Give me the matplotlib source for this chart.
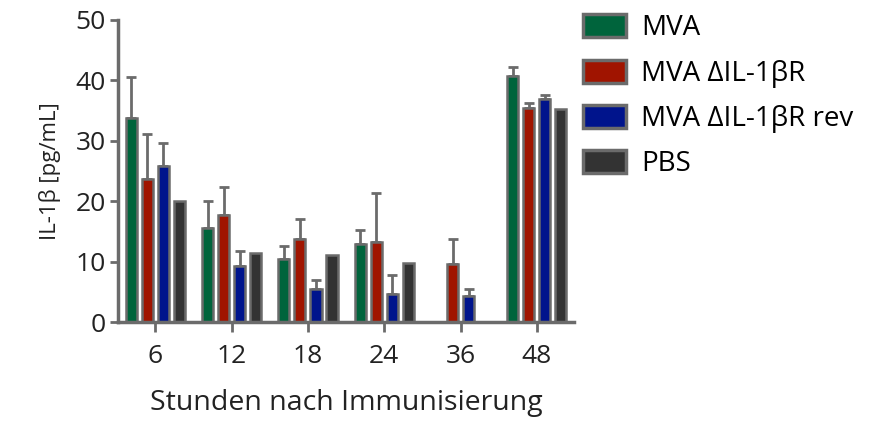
import matplotlib
matplotlib.use('Agg')
import matplotlib.pyplot as plt
import numpy as np

hours = ['6', '12', '18', '24', '36', '48']
groups = ['MVA', 'MVA ΔIL-1βR', 'MVA ΔIL-1βR rev', 'PBS']
colors = ['#00643c', '#a01400', '#00148c', '#333333']

# mean values per group (pg/mL)
mva = [33.8, 15.5, 10.4, 12.9, 0.0, 40.7]
mva_del = [23.6, 17.7, 13.7, 13.2, 9.6, 35.4]
mva_rev = [25.8, 9.3, 5.4, 4.7, 4.3, 36.9]
pbs = [20.0, 11.4, 11.1, 9.7, 0.0, 35.3]

# upper error (SD)
mva_err = [6.8, 4.5, 2.2, 2.3, 0.0, 1.6]
mva_del_err = [7.6, 4.6, 3.3, 8.2, 4.2, 0.9]
mva_rev_err = [3.9, 2.4, 1.5, 3.1, 1.2, 0.7]
pbs_err = [0, 0, 0, 0, 0, 0]

plt.rcParams['font.family'] = ['Open Sans', 'DejaVu Sans']
gray = '#6b6b6b'
txt = '#222222'

fig = plt.figure(figsize=(8.78, 4.21), dpi=100)
ax = fig.add_axes([0.1344, 0.235, 0.5196, 0.7175])

x = np.arange(len(hours))
pitch = 0.21
width = 0.145
series = [(mva, mva_err), (mva_del, mva_del_err), (mva_rev, mva_rev_err), (pbs, pbs_err)]
for i, ((vals, err), col, name) in enumerate(zip(series, colors, groups)):
    pos = x + (i - 1.5) * pitch
    ax.bar(pos, vals, width, color=col, edgecolor=gray, linewidth=1.8, label=name, zorder=2)
    e = np.array(err)
    mask = e > 0
    ax.errorbar(pos[mask], np.array(vals)[mask], yerr=[np.zeros(mask.sum()), e[mask]],
                fmt='none', ecolor=gray, elinewidth=2, capsize=3.5, capthick=2, zorder=1)

ax.set_xlim(-0.49, 5.49)
ax.set_ylim(0, 50)
ax.set_yticks([0, 10, 20, 30, 40, 50])
ax.set_xticks(x)
ax.set_xticklabels(hours)
for s in ['top', 'right']:
    ax.spines[s].set_visible(False)
for s in ['left', 'bottom']:
    ax.spines[s].set_color(gray)
    ax.spines[s].set_linewidth(2.5)
ax.tick_params(axis='both', colors=gray, width=2, length=6, labelsize=19, labelcolor=txt)
ax.tick_params(axis='x', length=7, pad=9)
ax.tick_params(axis='y', pad=3)
ax.set_xlabel('Stunden nach Immunisierung', fontsize=20.5, color=txt, labelpad=14)
ax.set_ylabel('IL-1β [pg/mL]', fontsize=16, color=txt, labelpad=10)

leg = ax.legend(loc='upper left', bbox_to_anchor=(0.664, 0.966), bbox_transform=fig.transFigure,
                frameon=False, fontsize=20, handlelength=1.55, handleheight=0.9,
                labelspacing=0.62, handletextpad=0.55, borderaxespad=0, borderpad=0)
for h in leg.legend_handles:
    h.set_linewidth(2.5)

fig.savefig('out.png', dpi=100)
